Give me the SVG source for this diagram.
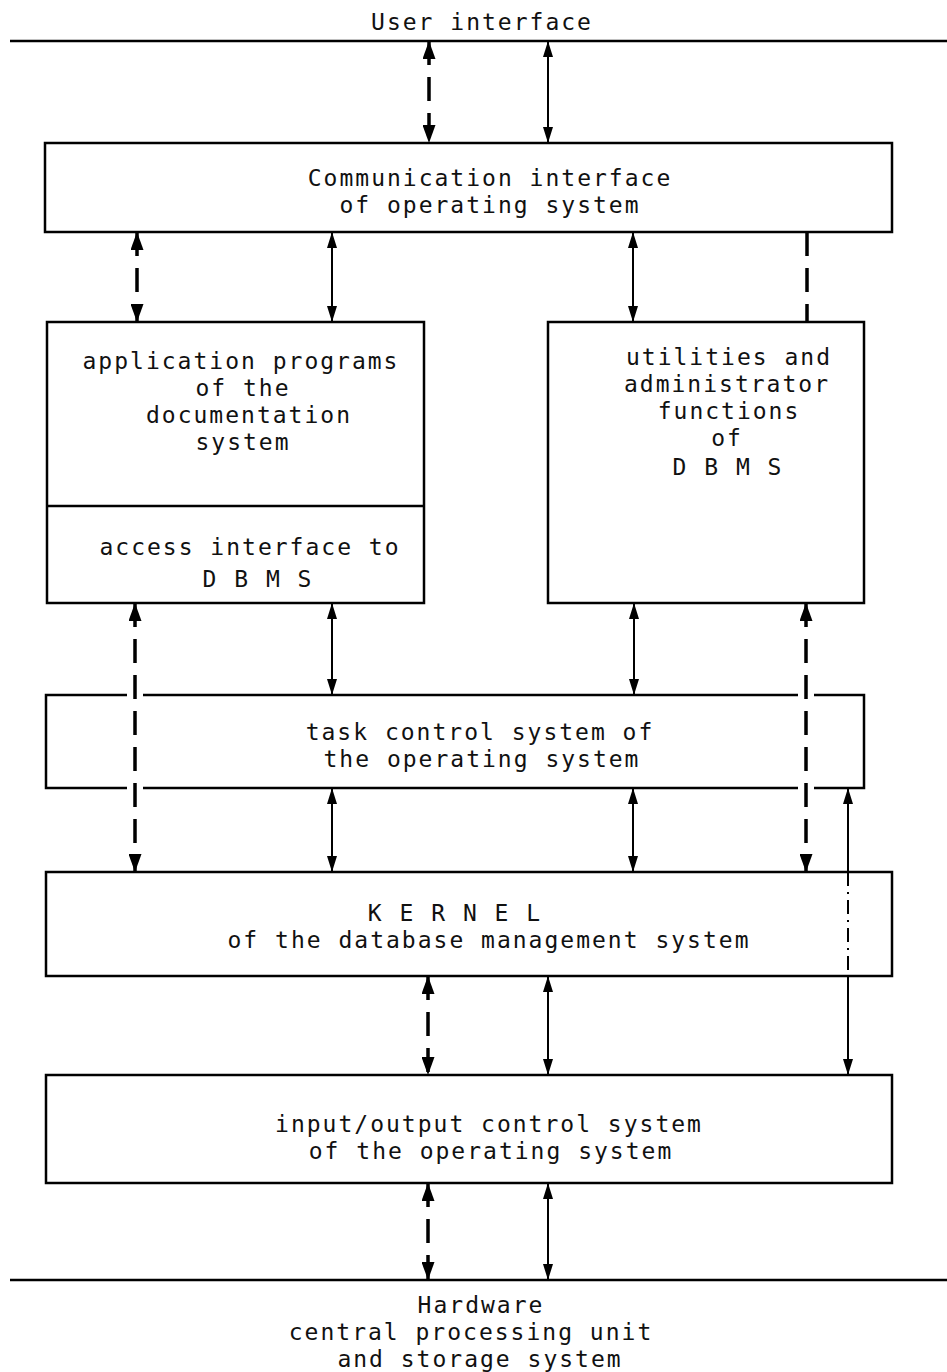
<svg xmlns="http://www.w3.org/2000/svg" width="947" height="1372" viewBox="0 0 947 1372">
<style>
text{font-family:"DejaVu Sans Mono","Liberation Mono",monospace;font-size:23px;letter-spacing:2px;fill:#111;text-anchor:middle}
.box{fill:none;stroke:#000;stroke-width:2.5}
.bar{stroke:#000;stroke-width:2.5}
.thin{stroke:#000;stroke-width:2;fill:none}
.bold{stroke:#000;stroke-width:3.5;fill:none;stroke-dasharray:24 12}
.tarr{marker-start:url(#ht);marker-end:url(#ht)}
.barr{marker-start:url(#hb);marker-end:url(#hb)}
</style>
<defs>
<marker id="ht" viewBox="0 0 16 10" refX="16" refY="5" markerWidth="16" markerHeight="10" markerUnits="userSpaceOnUse" orient="auto-start-reverse"><path d="M0,0 L16,5 L0,10 Z" fill="#000"/></marker>
<marker id="hb" viewBox="0 0 18 13" refX="18" refY="6.5" markerWidth="18" markerHeight="13" markerUnits="userSpaceOnUse" orient="auto-start-reverse"><path d="M0,0 L18,6.5 L0,13 Z" fill="#000"/></marker>
</defs>
<g id="user-interface">
<line class="bar" x1="10" y1="41" x2="947" y2="41"/>
<text x="482" y="30">User interface</text>
</g>
<g id="communication-interface">
<rect class="box" x="45" y="143" width="847" height="89"/>
<text x="490" y="186">Communication interface</text>
<text x="490" y="213">of operating system</text>
</g>
<g id="application-programs">
<rect class="box" x="47" y="322" width="377" height="281"/>
<line class="bar" x1="47" y1="506" x2="424" y2="506"/>
<text x="241" y="369">application programs</text>
<text x="243" y="396">of the</text>
<text x="249" y="423">documentation</text>
<text x="243" y="450">system</text>
<text x="250" y="555">access interface to</text>
<text x="258" y="587">D B M S</text>
</g>
<g id="utilities">
<rect class="box" x="548" y="322" width="316" height="281"/>
<text x="729" y="365">utilities and</text>
<text x="727" y="392">administrator</text>
<text x="729" y="419">functions</text>
<text x="727" y="446">of</text>
<text x="728" y="475">D B M S</text>
</g>
<g id="task-control">
<path class="box" d="M127,695 H46 V788 H127 M143,788 H798 M814,788 H864 V695 H814 M798,695 H143"/>
<text x="480" y="740">task control system of</text>
<text x="482" y="767">the operating system</text>
</g>
<g id="kernel">
<rect class="box" x="46" y="872" width="846" height="104"/>
<text x="455" y="921">K E R N E L</text>
<text x="489" y="948">of the database management system</text>
</g>
<g id="io-control">
<rect class="box" x="46" y="1075" width="846" height="108"/>
<text x="489" y="1132">input/output control system</text>
<text x="491" y="1159">of the operating system</text>
</g>
<g id="hardware">
<line class="bar" x1="10" y1="1280" x2="947" y2="1280"/>
<text x="481" y="1313">Hardware</text>
<text x="471" y="1340">central processing unit</text>
<text x="480" y="1367">and storage system</text>
</g>
<g id="connectors">
<line class="bold barr" x1="429" y1="41" x2="429" y2="143"/>
<line class="thin tarr" x1="548" y1="41" x2="548" y2="143"/>
<line class="bold barr" x1="137" y1="232" x2="137" y2="322"/>
<line class="thin tarr" x1="332" y1="232" x2="332" y2="322"/>
<line class="thin tarr" x1="633" y1="232" x2="633" y2="322"/>
<line class="bold" x1="807" y1="232" x2="807" y2="322"/>
<line class="bold barr" x1="135" y1="603" x2="135" y2="872"/>
<line class="thin tarr" x1="332" y1="603" x2="332" y2="695"/>
<line class="thin tarr" x1="634" y1="603" x2="634" y2="695"/>
<line class="bold barr" x1="806" y1="603" x2="806" y2="872"/>
<line class="thin tarr" x1="332" y1="788" x2="332" y2="872"/>
<line class="thin tarr" x1="633" y1="788" x2="633" y2="872"/>
<line class="thin" x1="848" y1="788" x2="848" y2="872" style="marker-start:url(#ht)"/>
<line class="thin" x1="848" y1="872" x2="848" y2="976" stroke-dasharray="14 6 2 6"/>
<line class="thin" x1="848" y1="976" x2="848" y2="1075" style="marker-end:url(#ht)"/>
<line class="bold barr" x1="428" y1="976" x2="428" y2="1075"/>
<line class="thin tarr" x1="548" y1="976" x2="548" y2="1075"/>
<line class="bold barr" x1="428" y1="1183" x2="428" y2="1280"/>
<line class="thin tarr" x1="548" y1="1183" x2="548" y2="1280"/>
</g>
</svg>
